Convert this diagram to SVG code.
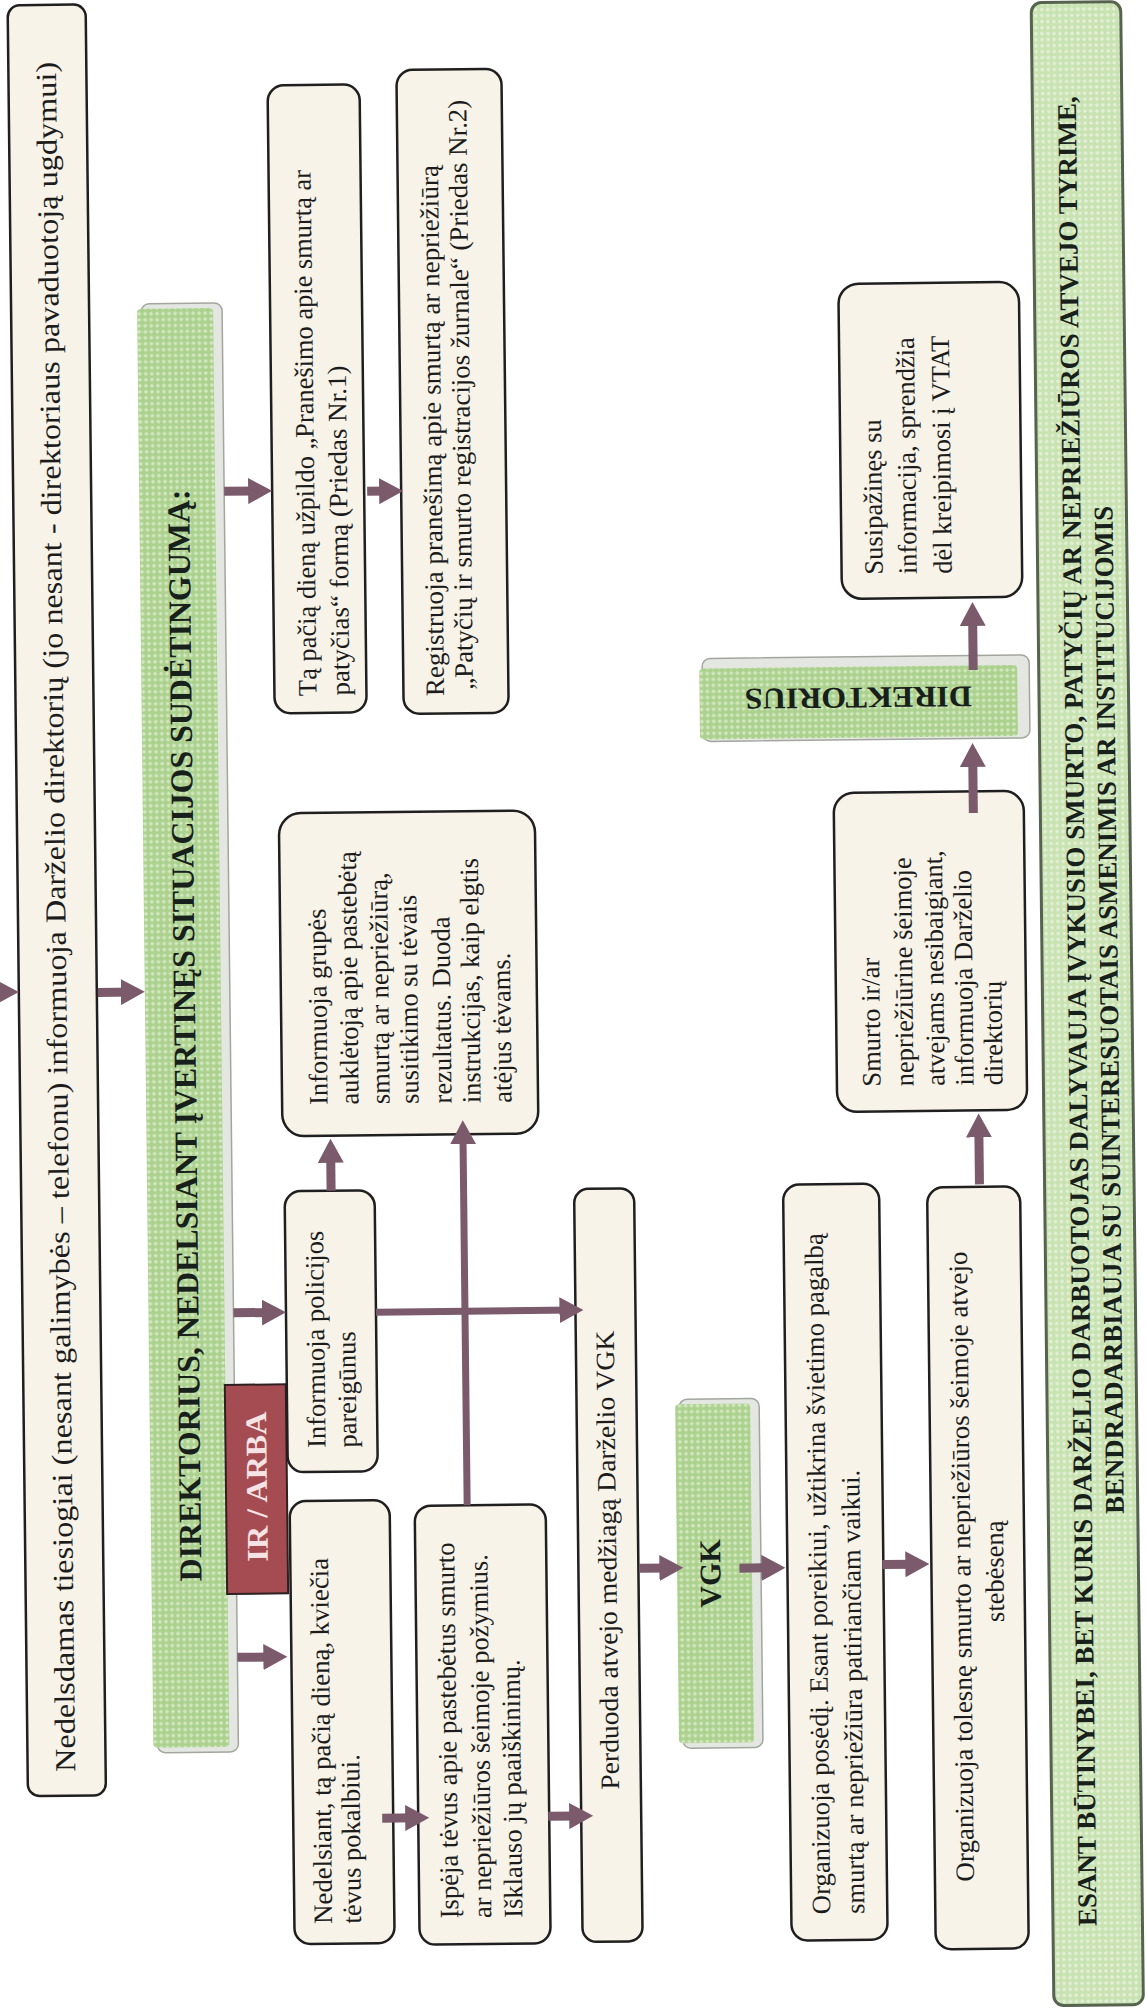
<svg xmlns="http://www.w3.org/2000/svg" width="1146" height="2011" viewBox="0 0 1146 2011">
<style>
.box{fill:#f7f3e8;stroke:#1f1f1f;stroke-width:2.5}
.t{font-family:"Liberation Serif","Times New Roman",serif;font-size:26.5px;fill:#1c1c1c}
.tb{font-family:"Liberation Serif","Times New Roman",serif;font-weight:bold;fill:#17201a}
.gsh{fill:#e4e6e1;stroke:#a2a69e;stroke-width:1.5}
.grn{fill:url(#gp)}
.arr{stroke:#7b5a6c;stroke-width:9;fill:none;marker-end:url(#ah)}
.lnk{stroke:#7b5a6c;stroke-width:7;fill:none;marker-end:url(#ah)}
</style>
<defs>
<pattern id="gp" width="6" height="6" patternUnits="userSpaceOnUse">
<rect width="6" height="6" fill="#acd18e"/>
<path d="M3,0.7 L5.3,3 L3,5.3 L0.7,3Z" fill="#d2e8bf"/>
</pattern>
<pattern id="gp2" width="6" height="6" patternUnits="userSpaceOnUse">
<rect width="6" height="6" fill="#c8e2b1"/>
<path d="M3,0.7 L5.3,3 L3,5.3 L0.7,3Z" fill="#e3f0d6"/>
</pattern>
<marker id="ah" markerUnits="userSpaceOnUse" markerWidth="26" markerHeight="26" viewBox="0 0 26 26" refX="12" refY="13" orient="auto">
<path d="M0,0 L24,13 L0,26 Z" fill="#7b5a6c"/>
</marker>
</defs>
<rect width="1146" height="2011" fill="#ffffff"/>
<g transform="rotate(-0.65 573 1005)">

<g id="n-top">
<rect class="box" x="19" y="-1" width="78" height="1791" rx="12"/>
<text class="t" style="font-size:29px" transform="translate(66.5 1766) rotate(-90)" textLength="1710" lengthAdjust="spacingAndGlyphs">Nedelsdamas tiesiogiai (nesant galimybės – telefonu) informuoja Darželio direktorių (jo nesant  - direktoriaus pavaduotoją ugdymui)</text>
</g>

<g id="n-direktorius-main">
<rect class="gsh" x="149" y="299" width="81" height="1449" rx="8"/>
<rect class="grn" x="145" y="304" width="76" height="1439" rx="4"/>
<text class="tb" style="font-size:32px" transform="translate(195 1577) rotate(-90)" textLength="1092" lengthAdjust="spacingAndGlyphs">DIREKTORIUS, NEDELSIANT ĮVERTINĘS SITUACIJOS SUDĖTINGUMĄ:</text>
</g>

<g id="n-irarba">
<rect x="220.5" y="1381" width="61" height="209" fill="#a54c53" stroke="#2e2020" stroke-width="2"/>
<text class="tb" style="font-size:30px;fill:#f6e4e4" text-anchor="middle" transform="translate(261.5 1483) rotate(-90)" textLength="150" lengthAdjust="spacingAndGlyphs">IR / ARBA</text>
</g>

<g id="n-forma">
<rect class="box" x="278" y="82" width="92" height="628" rx="16"/>
<text class="t" transform="translate(320 693) rotate(-90)" textLength="526" lengthAdjust="spacingAndGlyphs">Tą pačią dieną užpildo „Pranešimo apie smurtą ar</text>
<text class="t" transform="translate(353 693) rotate(-90)" textLength="330" lengthAdjust="spacingAndGlyphs">patyčias“ formą (Priedas Nr.1)</text>
</g>

<g id="n-registruoja">
<rect class="box" x="407" y="68" width="105" height="644" rx="16"/>
<text class="t" transform="translate(447.5 694.6) rotate(-90)" textLength="531" lengthAdjust="spacingAndGlyphs">Registruoja pranešimą apie smurtą ar nepriežiūrą</text>
<text class="t" transform="translate(476.5 688.6) rotate(-90)" textLength="590" lengthAdjust="spacingAndGlyphs">„Patyčių ir smurto registracijos žurnale“ (Priedas Nr.2)</text>
</g>

<g id="n-aukletoja">
<rect class="box" x="281" y="810" width="256" height="323" rx="22"/>
<text class="t" transform="translate(326.5 1102) rotate(-90)">Informuoja grupės</text>
<text class="t" transform="translate(357.5 1102) rotate(-90)">auklėtoją apie  pastebėtą</text>
<text class="t" transform="translate(388.5 1102) rotate(-90)">smurtą ar nepriežiūrą,</text>
<text class="t" transform="translate(417.5 1102) rotate(-90)">susitikimo su tėvais</text>
<text class="t" transform="translate(450.5 1102) rotate(-90)">rezultatus. Duoda</text>
<text class="t" transform="translate(479.5 1102) rotate(-90)">instrukcijas, kaip elgtis</text>
<text class="t" transform="translate(510.5 1102) rotate(-90)">atėjus tėvams.</text>
</g>

<g id="n-policija">
<rect class="box" x="282.5" y="1188" width="90" height="281" rx="16"/>
<text class="t" transform="translate(320.5 1445) rotate(-90)">Informuoja policijos</text>
<text class="t" transform="translate(351.5 1445) rotate(-90)">pareigūnus</text>
</g>

<g id="n-pokalbis">
<rect class="box" x="284" y="1498" width="100" height="443" rx="16"/>
<text class="t" transform="translate(321.7 1921) rotate(-90)" textLength="366" lengthAdjust="spacingAndGlyphs">Nedelsiant, tą pačią dieną, kviečia</text>
<text class="t" transform="translate(350.7 1921) rotate(-90)">tėvus pokalbiui.</text>
</g>

<g id="n-ispeja">
<rect class="box" x="409" y="1504" width="131" height="439" rx="16"/>
<text class="t" transform="translate(448 1917) rotate(-90)" textLength="376" lengthAdjust="spacingAndGlyphs">Įspėja tėvus apie pastebėtus smurto</text>
<text class="t" transform="translate(481 1917) rotate(-90)" textLength="364" lengthAdjust="spacingAndGlyphs">ar nepriežiūros šeimoje požymius.</text>
<text class="t" transform="translate(512 1917) rotate(-90)">Išklauso jų paaiškinimų.</text>
</g>

<g id="n-perduoda">
<rect class="box" x="572" y="1189" width="60" height="753" rx="14"/>
<text class="t" transform="translate(610 1790) rotate(-90)" textLength="459" lengthAdjust="spacingAndGlyphs">Perduoda atvejo medžiagą Darželio VGK</text>
</g>

<g id="n-vgk">
<rect class="gsh" x="674.6" y="1400.5" width="80" height="349" rx="8"/>
<rect class="grn" x="670.6" y="1405.5" width="75" height="339" rx="4"/>
<text class="tb" style="font-size:30px" text-anchor="middle" transform="translate(714 1575) rotate(-90)">VGK</text>
</g>

<g id="n-posedis">
<rect class="box" x="781" y="1187" width="96" height="756" rx="16"/>
<text class="t" transform="translate(820 1917) rotate(-90)" textLength="681" lengthAdjust="spacingAndGlyphs">Organizuoja posėdį. Esant poreikiui, užtikrina švietimo pagalbą</text>
<text class="t" transform="translate(854 1917) rotate(-90)" textLength="444" lengthAdjust="spacingAndGlyphs">smurtą ar nepriežiūra patiriančiam vaikui.</text>
</g>

<g id="n-stebesena">
<rect class="box" x="925" y="1191.5" width="93" height="762" rx="16"/>
<text class="t" text-anchor="middle" transform="translate(964 1571) rotate(-90)" textLength="630" lengthAdjust="spacingAndGlyphs">Organizuoja tolesnę smurto ar  nepriežiūros šeimoje atvejo</text>
<text class="t" text-anchor="middle" transform="translate(997 1576) rotate(-90)">stebėseną</text>
</g>

<g id="n-nesibaigiant">
<rect class="box" x="836" y="796" width="190" height="319" rx="20"/>
<text class="t" transform="translate(879.6 1090) rotate(-90)">Smurto ir/ar</text>
<text class="t" transform="translate(912.6 1090) rotate(-90)">nepriežiūrine šeimoje</text>
<text class="t" transform="translate(943.6 1090) rotate(-90)">atvejams nesibaigiant,</text>
<text class="t" transform="translate(972.6 1090) rotate(-90)">informuoja Darželio</text>
<text class="t" transform="translate(1001.6 1090) rotate(-90)">direktorių</text>
</g>

<g id="n-direktorius-2">
<rect class="gsh" x="706" y="660" width="327" height="83" rx="8"/>
<rect class="grn" x="703" y="670" width="318" height="71" rx="4"/>
<text class="tb" style="font-size:30px" text-anchor="middle" transform="translate(861.8 691) rotate(180)" textLength="227" lengthAdjust="spacingAndGlyphs">DIREKTORIUS</text>
</g>

<g id="n-vtat">
<rect class="box" x="846.5" y="287" width="180.5" height="315" rx="20"/>
<text class="t" transform="translate(887.5 578) rotate(-90)">Susipažinęs su</text>
<text class="t" transform="translate(921.5 578) rotate(-90)">informacija, sprendžia</text>
<text class="t" transform="translate(956.5 578) rotate(-90)">dėl kreipimosi į VTAT</text>
</g>

<g id="n-butinybe">
<rect x="1042.5" y="8" width="89.5" height="2003" rx="10" fill="url(#gp2)" stroke="#56634f" stroke-width="3"/>
<text class="tb" style="font-size:27px" text-anchor="middle" transform="translate(1086 1017) rotate(-90)" textLength="1830" lengthAdjust="spacingAndGlyphs">ESANT BŪTINYBEI, BET KURIS DARŽELIO DARBUOTOJAS DALYVAUJA ĮVYKUSIO SMURTO, PATYČIŲ AR NEPRIEŽIŪROS ATVEJO TYRIME,</text>
<text class="tb" style="font-size:27px" text-anchor="middle" transform="translate(1118 1016) rotate(-90)" textLength="1008" lengthAdjust="spacingAndGlyphs">BENDRADARBIAUJA SU SUINTERESUOTAIS ASMENIMIS AR INSTITUCIJOMIS</text>
</g>

<g id="connectors">
<path class="arr" d="M-40,985.6 H7"/>
<path class="arr" d="M98,987 H133"/>
<path class="arr" d="M230,487.4 H266"/>
<path class="arr" d="M373,489 H397"/>
<path class="arr" d="M230,1309 H270.5"/>
<path class="lnk" d="M372.5,1310 H568"/>
<path class="arr" d="M329,1188 V1148"/>
<path class="lnk" d="M461.5,1504 V1131"/>
<path class="arr" d="M230,1653.5 H268"/>
<path class="arr" d="M373,1816 H408"/>
<path class="arr" d="M539,1816 H572"/>
<path class="arr" d="M633,1569 H665"/>
<path class="arr" d="M733,1570 H767"/>
<path class="arr" d="M876,1568 H911"/>
<path class="arr" d="M977.4,1189 V1130"/>
<path class="arr" d="M975.5,817.5 V759.5"/>
<path class="arr" d="M977,674.5 V618.5"/>
</g>
</g>
</svg>
